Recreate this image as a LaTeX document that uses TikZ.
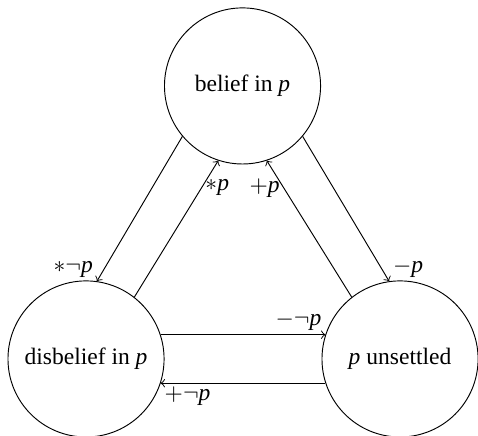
\documentclass[tikz,border=0pt]{standalone}
\usepackage{fontspec}
\setmainfont{Liberation Serif}
\usepackage{amsmath, amssymb}
\newcommand{\itp}{\textit{p}}
\tikzset{
  state/.style={draw, circle, minimum size=2.33cm, inner sep=0pt, align=center},
  trans/.style={->, line width=0.4pt},
  lbl/.style={inner sep=1.5pt}
}

\begin{document}
\begin{tikzpicture}[font=\normalsize]
    \useasboundingbox (-1.284,-1.149) rectangle (5.851,5.358);
    \node[state] (belief) at (2.336,4.075) {belief in \itp};
    \node[state] (disbelief) at (0,0) {disbelief in \itp};
    \node[state] (unsettled) at (4.687,0) {\itp{} unsettled};
    % left pair
    \draw[trans] (belief.220) -- node[lbl, pos=1, above left]{$\ast\neg$\itp} (disbelief.82);
    \draw[trans] (disbelief.52) -- node[lbl, pos=0.8, right]{$\ast$\itp} (belief.252);
    % right pair
    \draw[trans] (belief.320) -- node[lbl, pos=1, above right]{$-$\itp} (unsettled.98);
    \draw[trans] (unsettled.128) -- node[lbl, pos=0.8, left]{$+$\itp} (belief.288);
    % bottom pair
    \draw[trans] (disbelief.18) -- node[lbl, pos=1, above left]{$-\neg$\itp} (unsettled.162);
    \draw[trans] (unsettled.198) -- node[lbl, pos=1, below right]{$+\neg$\itp} (disbelief.342);
  \end{tikzpicture}
\end{document}
